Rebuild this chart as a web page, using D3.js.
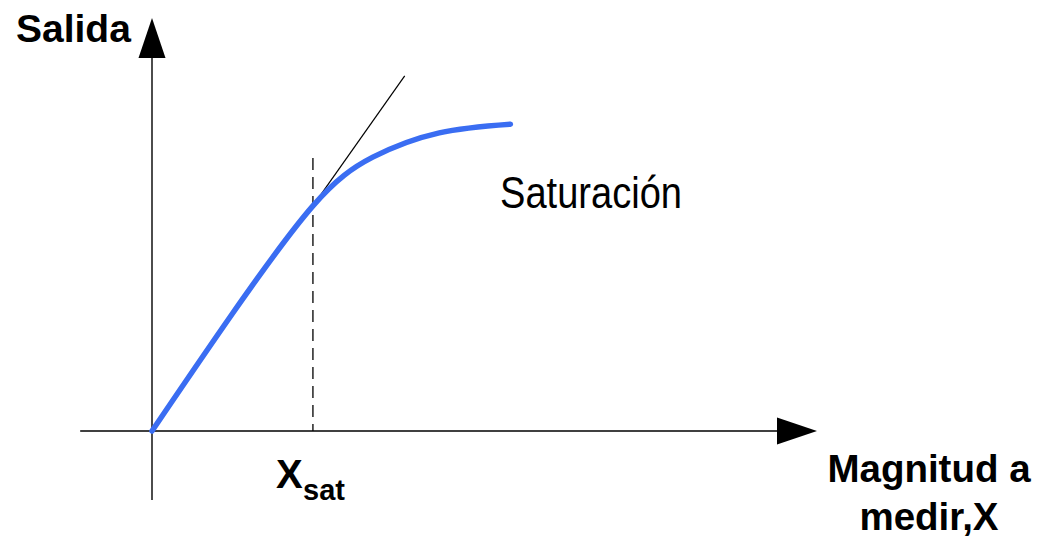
<!DOCTYPE html>
<html>
<head>
<meta charset="utf-8">
<script src="https://cdn.jsdelivr.net/npm/d3@7"></script>
<style>
  html, body { margin: 0; padding: 0; background: #fff; }
  svg { display: block; }
</style>
</head>
<body>
<svg id="chart" width="1039" height="539"></svg>
<script>
// Transfer curve of a sensor: output vs. measured magnitude, with saturation
const curveX = [0, 1.20, 2.42, 3.32, 4.32, 5.39];
const curveY = [0, 2.82, 5.45, 6.63, 7.22, 7.43];

// linear tangent at the saturation point
const tangentX = [2.42, 3.80];
const tangentY = [5.45, 8.60];

// saturation abscissa and the top of its marker
const xSat = 2.42;
const xSatTop = 6.61;

// axis extents (arrow tip at 10)
const xAxisExtent = [-1.08, 10];
const yAxisExtent = [-1.67, 10];

const labelY = "Salida";
const labelX = ["Magnitud a", "medir,X"];
const labelSat = "Saturación";
const labelXsat = ["X", "sat"];

const svg = d3.select("#chart");
const W = 1039, H = 539;
svg.append("rect").attr("width", W).attr("height", H).attr("fill", "#fff");

const x = d3.scaleLinear().domain([0, 10]).range([152, 817]);
const y = d3.scaleLinear().domain([0, 10]).range([431, 18]);

const arrowLen = 40, arrowHalf = 13.5;
const ink = "#000";

// x axis with arrowhead
svg.append("line")
  .attr("x1", x(xAxisExtent[0])).attr("x2", x(xAxisExtent[1]) - arrowLen)
  .attr("y1", y(0)).attr("y2", y(0))
  .attr("stroke", ink).attr("stroke-width", 1.4);
svg.append("path")
  .attr("d", d3.line()([
    [x(xAxisExtent[1]), y(0)],
    [x(xAxisExtent[1]) - arrowLen, y(0) - arrowHalf],
    [x(xAxisExtent[1]) - arrowLen, y(0) + arrowHalf]
  ]) + "Z")
  .attr("fill", ink);

// y axis with arrowhead
svg.append("line")
  .attr("x1", x(0)).attr("x2", x(0))
  .attr("y1", y(yAxisExtent[0])).attr("y2", y(yAxisExtent[1]) + arrowLen)
  .attr("stroke", ink).attr("stroke-width", 1.4);
svg.append("path")
  .attr("d", d3.line()([
    [x(0), y(yAxisExtent[1])],
    [x(0) - arrowHalf, y(yAxisExtent[1]) + arrowLen],
    [x(0) + arrowHalf, y(yAxisExtent[1]) + arrowLen]
  ]) + "Z")
  .attr("fill", ink);

// dashed marker at X_sat
svg.append("line")
  .attr("x1", x(xSat)).attr("x2", x(xSat))
  .attr("y1", y(xSatTop)).attr("y2", y(0))
  .attr("stroke", ink).attr("stroke-width", 1.3)
  .attr("stroke-dasharray", "12,7");

// tangent line
svg.append("line")
  .attr("x1", x(tangentX[0])).attr("y1", y(tangentY[0]))
  .attr("x2", x(tangentX[1])).attr("y2", y(tangentY[1]))
  .attr("stroke", ink).attr("stroke-width", 1.2);

// response curve
const pts = curveX.map((v, i) => [v, curveY[i]]);
svg.append("path")
  .attr("d", d3.line().x(d => x(d[0])).y(d => y(d[1])).curve(d3.curveNatural)(pts))
  .attr("fill", "none")
  .attr("stroke", "#3a6df2")
  .attr("stroke-width", 5.5)
  .attr("stroke-linecap", "round");

const bold = "'Liberation Sans', Arial, sans-serif";

// axis titles
svg.append("text")
  .attr("x", 16).attr("y", 42)
  .attr("font-family", bold).attr("font-weight", "bold").attr("font-size", 39)
  .attr("fill", ink).text(labelY);

const xt = svg.append("text")
  .attr("text-anchor", "middle")
  .attr("font-family", bold).attr("font-weight", "bold").attr("font-size", 38.5)
  .attr("fill", ink);
labelX.forEach((t, i) => {
  xt.append("tspan").attr("x", 929).attr("y", 482 + i * 48).text(t);
});

// X_sat label
const xs = svg.append("text")
  .attr("x", 276).attr("y", 488)
  .attr("font-family", bold).attr("font-weight", "bold")
  .attr("fill", ink);
xs.append("tspan").attr("font-size", 40).text(labelXsat[0]);
xs.append("tspan").attr("x", 303).attr("y", 500).attr("font-size", 29).text(labelXsat[1]);

// saturation note
svg.append("text")
  .attr("x", 500).attr("y", 208)
  .attr("font-family", "'Liberation Sans Narrow', 'Liberation Sans', Arial, sans-serif")
  .attr("font-size", 45)
  .attr("textLength", 182).attr("lengthAdjust", "spacingAndGlyphs")
  .attr("fill", ink).text(labelSat);
</script>
</body>
</html>
